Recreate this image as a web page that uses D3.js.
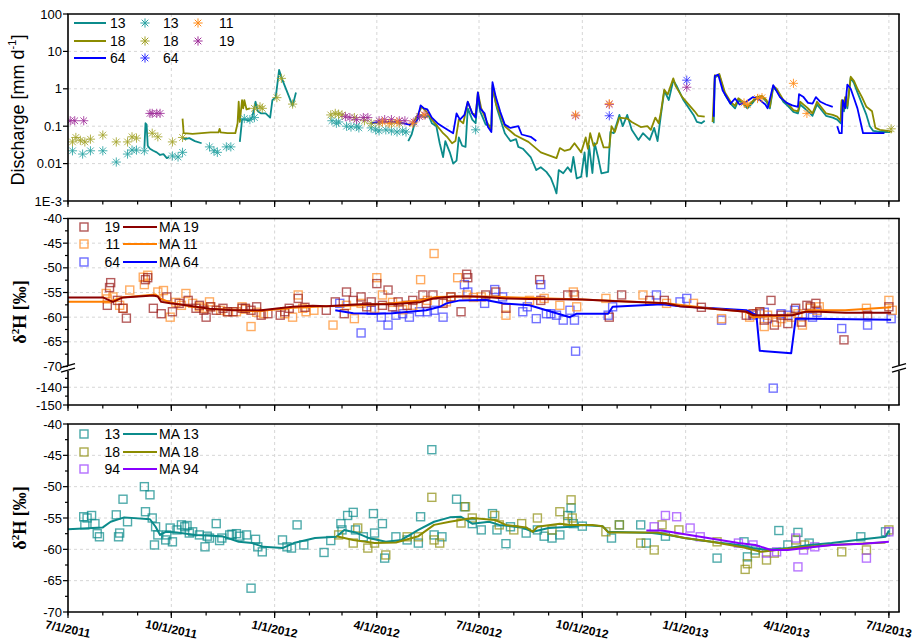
<!DOCTYPE html>
<html><head><meta charset="utf-8">
<script src="https://cdn.jsdelivr.net/npm/d3@7"></script>
<style>body{margin:0;background:#fff}svg{display:block}text{font-family:"Liberation Sans",Arial,sans-serif}</style>
</head><body><svg id="c" width="915" height="643"></svg>
<script>
// ---------------- DATA ----------------
const xTickLabels = ["7/1/2011","10/1/2011","1/1/2012","4/1/2012","7/1/2012","10/1/2012","1/1/2013","4/1/2013","7/1/2013"];
const qTickLabels = ["1E-3","0.01","0.1","1","10","100"];
const qTickValues = [0.001,0.01,0.1,1,10,100];
const hTickValues = [-70,-65,-60,-55,-50,-45,-40];
const hBreakTicks = [-150,-140];

// Discharge lines [date, mm/d] (null = gap)
const Q13 = [["2011-09-07",0.025],["2011-09-08",0.12],["2011-09-09",0.11],["2011-09-10",0.03],["2011-09-12",0.025],["2011-09-15",0.022],["2011-09-18",0.02],["2011-09-21",0.017],["2011-09-24",0.018],["2011-09-27",0.014],["2011-09-29",0.015],
["2011-10-05",null],
["2011-10-11",0.05],["2011-10-13",0.045],["2011-10-17",0.048],["2011-10-22",0.04],["2011-10-28",0.035],
["2011-11-15",null],
["2011-12-01",0.038],["2011-12-03",0.15],["2011-12-06",0.15],["2011-12-09",0.14],["2011-12-12",0.17],["2011-12-15",0.45],["2011-12-17",0.25],["2011-12-20",0.22],["2011-12-24",0.22],["2011-12-28",0.17],["2011-12-30",0.5],["2012-01-02",0.6],["2012-01-05",3.2],["2012-01-08",1.7],["2012-01-14",0.6],["2012-01-17",0.35],["2012-01-20",0.8],
["2012-03-01",null],
["2012-04-29",0.04],["2012-05-02",0.06],["2012-05-04",0.1],["2012-05-07",0.15],["2012-05-10",0.2],["2012-05-14",0.17],["2012-05-17",0.2],["2012-05-20",0.12],["2012-05-24",0.1],["2012-05-27",0.035],["2012-05-30",0.015],["2012-06-01",0.04],["2012-06-05",0.02],["2012-06-08",0.01],["2012-06-11",0.012],["2012-06-13",0.05],["2012-06-16",0.03],["2012-06-19",0.028],["2012-06-21",0.3],["2012-06-25",0.15],["2012-06-28",0.12],["2012-06-30",0.6],["2012-07-02",0.25],["2012-07-07",0.11],["2012-07-12",0.1],["2012-07-13",1.1],["2012-07-17",0.3],["2012-07-24",0.065],["2012-07-29",0.04],["2012-08-03",0.045],["2012-08-05",0.028],["2012-08-09",0.025],["2012-08-16",0.015],["2012-08-21",0.0067],["2012-08-25",0.008],["2012-08-30",0.006],["2012-09-03",0.0041],["2012-09-06",0.0024],["2012-09-08",0.0016],["2012-09-10",0.0067],["2012-09-14",0.0055],["2012-09-18",0.008],["2012-09-21",0.006],["2012-09-23",0.015],["2012-09-26",0.004],["2012-09-30",0.0045],["2012-10-03",0.02],["2012-10-05",0.0045],["2012-10-07",0.03],["2012-10-10",0.0056],["2012-10-12",0.035],["2012-10-15",0.015],["2012-10-18",0.0055],["2012-10-24",0.006],["2012-10-26",0.07],["2012-10-29",0.065],["2012-11-03",0.2],["2012-11-06",0.1],["2012-11-10",0.2],["2012-11-14",0.08],["2012-11-20",0.043],["2012-11-24",0.065],["2012-11-30",0.043],["2012-12-04",0.09],["2012-12-07",0.04],["2012-12-10",0.2],["2012-12-13",0.9],["2012-12-17",0.5],["2012-12-21",1.7],["2012-12-24",1.2],["2012-12-30",0.5],["2013-01-08",0.2],["2013-01-11",0.13],["2013-01-15",0.12],["2013-01-18",0.14],
["2013-01-22",null],
["2013-01-26",0.12],["2013-01-27",2.0],["2013-01-31",2.3],["2013-02-05",0.7],["2013-02-10",0.4],["2013-02-14",0.3],["2013-02-17",0.5],["2013-02-21",0.4],["2013-02-25",0.3],["2013-03-01",0.4],["2013-03-05",0.55],["2013-03-10",0.6],["2013-03-14",0.45],["2013-03-17",0.3],["2013-03-20",1.1],["2013-03-23",0.9],["2013-03-29",0.45],["2013-04-02",0.35],["2013-04-07",0.24],["2013-04-11",0.22],["2013-04-13",0.38],["2013-04-20",0.25],["2013-04-24",0.19],["2013-04-28",0.38],["2013-05-06",0.19],["2013-05-12",0.17],["2013-05-16",0.15],["2013-05-19",0.12],["2013-05-20",0.45],["2013-05-22",0.25],["2013-05-23",0.5],["2013-05-25",0.3],["2013-05-28",2.0],["2013-05-31",1.4],["2013-06-03",0.8],["2013-06-07",0.4],["2013-06-11",0.2],["2013-06-14",0.1],["2013-06-17",0.075],["2013-06-23",0.07],["2013-06-30",0.07],["2013-07-02",0.07]];

const Q18 = [["2011-10-11",0.16],["2011-10-12",0.065],["2011-10-20",0.062],["2011-10-28",0.065],["2011-11-05",0.068],["2011-11-12",0.068],["2011-11-13",0.085],["2011-11-14",0.068],["2011-11-20",0.065],["2011-11-27",0.065],["2011-11-29",0.12],["2011-11-30",0.45],["2011-12-01",0.13],["2011-12-03",0.5],["2011-12-04",0.3],["2011-12-05",0.5],["2011-12-07",0.28],["2011-12-10",0.3],
["2012-01-01",null],
["2012-04-30",0.1],["2012-05-04",0.13],["2012-05-08",0.22],["2012-05-11",0.33],["2012-05-15",0.25],["2012-05-20",0.15],["2012-05-25",0.1],["2012-05-30",0.065],["2012-06-03",0.05],["2012-06-07",0.035],["2012-06-10",0.04],["2012-06-13",0.15],["2012-06-17",0.12],["2012-06-21",0.45],["2012-06-25",0.22],["2012-06-28",0.2],["2012-06-30",0.8],["2012-07-03",0.3],["2012-07-08",0.13],["2012-07-12",0.08],["2012-07-13",1.25],["2012-07-16",0.4],["2012-07-24",0.1],["2012-08-02",0.058],["2012-08-14",0.038],["2012-08-25",0.02],["2012-09-08",0.014],["2012-09-11",0.026],["2012-09-15",0.022],["2012-09-20",0.024],["2012-09-24",0.035],["2012-09-30",0.02],["2012-10-04",0.05],["2012-10-06",0.025],["2012-10-08",0.065],["2012-10-11",0.03],["2012-10-14",0.035],["2012-10-16",0.065],["2012-10-20",0.027],["2012-10-25",0.027],["2012-10-27",0.1],["2012-10-30",0.07],["2012-11-03",0.17],["2012-11-10",0.16],["2012-11-14",0.13],["2012-11-22",0.095],["2012-11-28",0.1],["2012-12-01",0.08],["2012-12-05",0.17],["2012-12-08",0.12],["2012-12-10",0.24],["2012-12-13",0.95],["2012-12-16",0.7],["2012-12-21",1.9],["2012-12-23",1.2],["2012-12-29",0.6],["2013-01-09",0.25],["2013-01-12",0.19],["2013-01-18",0.18],
["2013-01-22",null],
["2013-01-25",0.13],["2013-01-27",2.3],["2013-01-29",2.2],["2013-01-31",2.5],["2013-02-05",0.8],["2013-02-10",0.45],["2013-02-14",0.35],["2013-02-17",0.56],["2013-02-21",0.45],["2013-02-25",0.33],["2013-03-01",0.45],["2013-03-05",0.6],["2013-03-10",0.65],["2013-03-14",0.5],["2013-03-17",0.33],["2013-03-20",1.2],["2013-03-23",1.0],["2013-03-29",0.5],["2013-04-02",0.4],["2013-04-07",0.27],["2013-04-11",0.25],["2013-04-13",0.45],["2013-04-20",0.3],["2013-04-24",0.22],["2013-04-28",0.45],["2013-05-06",0.22],["2013-05-12",0.2],["2013-05-16",0.18],["2013-05-19",0.14],["2013-05-20",0.5],["2013-05-22",0.3],["2013-05-23",0.6],["2013-05-25",0.35],["2013-05-28",2.1],["2013-05-31",1.6],["2013-06-03",1.0],["2013-06-07",0.6],["2013-06-11",0.33],["2013-06-16",0.25],["2013-06-19",0.09],["2013-06-23",0.08],["2013-06-30",0.075],["2013-07-04",0.07]];

const Q64 = [["2012-03-27",0.12],["2012-04-03",0.13],["2012-04-10",0.13],["2012-04-17",0.13],["2012-04-24",0.12],["2012-04-30",0.11],["2012-05-03",0.12],["2012-05-07",0.15],["2012-05-10",0.36],["2012-05-13",0.3],["2012-05-16",0.28],["2012-05-20",0.17],["2012-05-25",0.12],["2012-05-29",0.1],["2012-06-03",0.08],["2012-06-08",0.065],["2012-06-11",0.22],["2012-06-14",0.15],["2012-06-18",0.2],["2012-06-21",0.45],["2012-06-25",0.22],["2012-06-28",0.17],["2012-06-30",0.8],["2012-07-02",0.3],["2012-07-06",0.22],["2012-07-09",0.095],["2012-07-12",0.07],["2012-07-13",1.5],["2012-07-16",0.6],["2012-07-20",0.24],["2012-07-24",0.11],["2012-07-29",0.09],["2012-08-05",0.1],["2012-08-08",0.06],["2012-08-16",0.052],["2012-08-21",0.04],
["2012-10-01",null],
["2013-01-26",0.18],["2013-01-27",2.2],["2013-01-30",2.4],["2013-02-03",0.9],["2013-02-10",0.4],["2013-02-14",0.55],["2013-02-18",0.38],["2013-02-24",0.45],["2013-03-02",0.6],["2013-03-08",0.5],["2013-03-13",0.38],["2013-03-15",0.3],["2013-03-20",1.25],["2013-03-26",0.6],["2013-04-01",0.42],["2013-04-06",0.36],["2013-04-11",0.33],["2013-04-12",0.72],["2013-04-16",0.6],["2013-04-20",0.42],["2013-04-24",0.4],["2013-04-27",0.6],["2013-05-01",0.45],["2013-05-06",0.38],["2013-05-12",0.33],
["2013-05-14",null],
["2013-05-16",0.1],["2013-05-18",0.065],["2013-05-20",0.065],["2013-05-21",0.5],["2013-05-23",0.3],["2013-05-25",1.3],["2013-05-28",1.0],["2013-05-31",0.55],["2013-06-03",0.3],["2013-06-06",0.12],["2013-06-08",0.065],["2013-06-15",0.065],["2013-06-22",0.065],["2013-06-27",0.065]];

// Discharge at sampling (stars)
const S13 = [["2011-07-05",0.022],["2011-07-14",0.018],["2011-07-21",0.022],["2011-08-01",0.022],["2011-08-13",0.011],["2011-08-23",0.018],["2011-08-27",0.023],["2011-08-31",0.023],["2011-09-07",0.022],["2011-10-02",0.016],["2011-10-07",0.015],["2011-10-11",0.02],["2011-11-04",0.028],["2011-11-08",0.022],["2011-11-11",0.02],["2011-11-19",0.028],["2011-11-23",0.028],["2011-12-05",0.16],["2011-12-10",0.15],["2011-12-14",0.17],["2012-02-21",0.14],["2012-02-25",0.12],["2012-02-27",0.13],["2012-03-05",0.1],["2012-03-09",0.095],["2012-03-14",0.1],["2012-03-16",0.09],["2012-03-27",0.09],["2012-03-31",0.08],["2012-04-03",0.075],["2012-04-09",0.08],["2012-04-14",0.075],["2012-04-19",0.07],["2012-04-24",0.075],["2012-04-27",0.07],["2012-06-28",0.08]];
const S18 = [["2011-07-05",0.038],["2011-07-08",0.05],["2011-07-12",0.042],["2011-07-16",0.038],["2011-07-21",0.045],["2011-08-01",0.058],["2011-08-13",0.038],["2011-08-23",0.038],["2011-08-27",0.052],["2011-08-31",0.048],["2011-09-14",0.065],["2011-09-19",0.052],["2011-10-02",0.038],["2011-10-11",0.05],["2011-12-14",0.3],["2011-12-19",0.33],["2011-12-21",0.3],["2012-01-03",0.58],["2012-01-07",1.9],["2012-01-17",0.39],["2012-02-20",0.2],["2012-02-24",0.22],["2012-02-27",0.21],["2012-03-01",0.2],["2012-03-12",0.17],["2012-03-21",0.14],["2012-03-27",0.12],["2012-04-03",0.12],["2012-04-14",0.12],["2012-04-21",0.12],["2013-07-03",0.085]];
const S64 = [["2012-10-25",0.19],["2013-01-02",1.7]];
const S11 = [["2012-04-06",0.13],["2012-04-12",0.12],["2012-04-19",0.13],["2012-05-03",0.12],["2012-05-13",0.2],["2012-09-25",0.2],["2012-10-25",0.4],["2013-02-22",0.42],["2013-02-25",0.38],["2013-03-06",0.55],["2013-03-10",0.58],["2013-04-07",1.4],["2013-04-19",0.22]];
const S19 = [["2011-07-03",0.14],["2011-07-07",0.14],["2011-07-15",0.14],["2011-09-12",0.22],["2011-09-14",0.22],["2011-09-18",0.22],["2011-09-21",0.22],["2012-03-04",0.18],["2012-03-08",0.17],["2012-03-14",0.15],["2012-03-20",0.17],["2012-03-24",0.17],["2012-04-03",0.14],["2012-04-08",0.15],["2012-04-14",0.15],["2012-04-21",0.14],["2012-04-26",0.14],["2012-05-04",0.13],["2012-05-09",0.18],["2012-05-14",0.2],["2012-09-25",0.19],["2012-10-25",0.38],["2013-01-02",1.1]];

// delta2H samples (middle panel)
const D19 = [["2011-08-08",-53.0],["2011-08-07",-54.0],["2011-08-05",-57.6],["2011-08-14",-56.6],["2011-08-19",-58.2],["2011-08-22",-60.2],["2011-09-08",-52.4],["2011-09-10",-52.0],["2011-09-15",-58.2],["2011-09-22",-59.3],["2011-09-27",-55.9],["2011-10-02",-58.9],["2011-10-08",-57.2],["2011-10-16",-56.6],["2011-10-23",-58.2],["2011-10-26",-57.6],["2011-10-30",-58.6],["2011-11-01",-60.0],["2011-11-05",-57.9],["2011-11-10",-58.6],["2011-11-16",-58.2],["2011-11-20",-58.9],["2011-11-25",-58.9],["2011-12-03",-58.2],["2011-12-06",-58.2],["2011-12-11",-58.6],["2011-12-16",-57.9],["2011-12-20",-59.6],["2011-12-26",-59.3],["2012-01-06",-59.6],["2012-01-10",-58.9],["2012-01-14",-58.2],["2012-01-22",-56.2],["2012-01-28",-58.0],["2012-02-16",-58.6],["2012-02-24",-56.9],["2012-03-03",-59.3],["2012-03-05",-54.9],["2012-03-11",-56.6],["2012-03-18",-55.9],["2012-03-23",-57.9],["2012-03-27",-56.9],["2012-04-01",-53.2],["2012-04-06",-57.6],["2012-04-11",-54.5],["2012-04-15",-57.9],["2012-04-20",-56.9],["2012-04-28",-57.6],["2012-05-03",-56.6],["2012-05-12",-55.5],["2012-05-15",-57.2],["2012-05-21",-55.5],["2012-05-30",-57.2],["2012-06-06",-55.9],["2012-06-15",-58.9],["2012-06-20",-51.3],["2012-06-21",-52.0],["2012-07-07",-55.5],["2012-07-16",-54.9],["2012-07-25",-58.2],["2012-08-24",-52.4],["2012-08-25",-56.6],["2012-09-18",-55.5],["2012-09-24",-55.5],["2012-10-25",-60.0],["2012-11-05",-55.5],["2012-11-30",-56.6],["2012-12-13",-56.6],["2013-01-15",-58.0],["2013-02-24",-59.6],["2013-03-02",-59.3],["2013-03-08",-58.9],["2013-03-12",-60.6],["2013-03-18",-56.6],["2013-03-21",-61.6],["2013-03-27",-59.6],["2013-04-02",-61.3],["2013-04-09",-58.2],["2013-04-14",-61.0],["2013-04-19",-57.6],["2013-04-22",-57.9],["2013-04-27",-57.2],["2013-05-22",-64.6],["2013-06-12",-59.6],["2013-07-01",-57.9]];
const D11 = [["2011-08-04",-55.2],["2011-08-05",-56.3],["2011-08-10",-55.9],["2011-08-16",-57.6],["2011-08-19",-58.2],["2011-08-25",-54.5],["2011-09-06",-51.9],["2011-09-07",-53.4],["2011-09-10",-51.5],["2011-09-19",-54.9],["2011-09-24",-54.6],["2011-09-30",-60.0],["2011-10-05",-57.0],["2011-10-10",-57.6],["2011-10-14",-55.2],["2011-10-20",-57.2],["2011-10-26",-57.9],["2011-10-30",-58.2],["2011-11-04",-56.9],["2011-11-05",-57.9],["2011-11-14",-58.6],["2011-11-20",-58.9],["2011-11-28",-58.9],["2011-12-03",-57.9],["2011-12-06",-58.4],["2011-12-11",-61.9],["2011-12-16",-59.0],["2011-12-22",-59.3],["2012-01-10",-59.3],["2012-01-17",-60.0],["2012-01-22",-55.5],["2012-01-26",-58.2],["2012-01-29",-58.9],["2012-02-05",-58.6],["2012-02-22",-61.6],["2012-03-05",-57.6],["2012-03-12",-60.3],["2012-03-18",-57.2],["2012-03-30",-58.2],["2012-04-01",-52.0],["2012-04-06",-55.5],["2012-04-15",-57.0],["2012-04-24",-58.5],["2012-05-03",-57.6],["2012-05-10",-52.4],["2012-05-16",-56.6],["2012-05-22",-47.1],["2012-06-02",-56.9],["2012-06-06",-55.9],["2012-06-12",-52.0],["2012-06-20",-55.5],["2012-06-26",-56.0],["2012-07-03",-55.9],["2012-07-25",-59.6],["2012-08-15",-56.6],["2012-08-28",-56.2],["2012-09-11",-57.6],["2012-09-23",-54.9],["2012-09-26",-57.9],["2012-10-22",-56.2],["2012-11-24",-55.5],["2012-12-15",-57.2],["2013-01-08",-57.2],["2013-02-02",-60.3],["2013-02-27",-60.0],["2013-03-05",-59.3],["2013-03-08",-59.0],["2013-03-12",-61.9],["2013-03-15",-59.6],["2013-03-23",-61.0],["2013-03-27",-60.3],["2013-04-05",-60.0],["2013-04-11",-59.3],["2013-04-15",-61.6],["2013-04-22",-58.2],["2013-04-28",-58.6],["2013-04-30",-57.9],["2013-06-11",-58.2],["2013-07-01",-56.6],["2013-07-04",-58.6]];
const D64 = [["2012-02-28",-57.2],["2012-03-18",-63.2],["2012-03-27",-58.6],["2012-04-05",-60.0],["2012-04-11",-61.6],["2012-04-18",-59.6],["2012-04-24",-59.3],["2012-04-30",-60.0],["2012-05-09",-58.9],["2012-05-16",-58.9],["2012-05-22",-58.6],["2012-05-30",-60.0],["2012-06-18",-53.4],["2012-06-21",-54.9],["2012-07-06",-57.2],["2012-07-15",-54.4],["2012-07-22",-55.9],["2012-08-09",-58.9],["2012-08-13",-57.9],["2012-08-21",-60.3],["2012-08-25",-53.4],["2012-08-30",-59.3],["2012-09-03",-59.3],["2012-09-08",-59.6],["2012-09-14",-60.6],["2012-09-20",-58.6],["2012-09-24",-60.6],["2012-09-25",-66.9],["2012-10-24",-59.6],["2012-10-28",-57.9],["2012-12-06",-55.5],["2012-12-27",-56.9],["2013-01-02",-56.2],["2013-02-02",-60.6],["2013-03-02",-59.6],["2013-03-08",-59.3],["2013-03-12",-59.0],["2013-03-15",-60.3],["2013-03-20",-140.5],["2013-03-27",-59.3],["2013-04-02",-59.6],["2013-04-08",-58.6],["2013-04-15",-59.8],["2013-04-24",-60.0],["2013-04-28",-59.0],["2013-05-20",-62.3],["2013-06-12",-61.6],["2013-07-03",-60.3]];
const MA19 = [["2011-07-01",-56.0],["2011-08-01",-56.0],["2011-08-10",-56.9],["2011-08-19",-56.0],["2011-09-15",-55.6],["2011-09-19",-55.8],["2011-09-22",-56.9],["2011-09-30",-57.2],["2011-10-14",-57.6],["2011-11-04",-58.3],["2011-11-25",-58.6],["2011-12-20",-58.6],["2012-01-17",-57.9],["2012-02-04",-57.7],["2012-02-16",-57.8],["2012-03-18",-57.4],["2012-04-15",-57.4],["2012-05-09",-57.0],["2012-05-21",-56.2],["2012-06-08",-55.8],["2012-06-26",-55.8],["2012-07-07",-55.9],["2012-07-25",-56.2],["2012-08-15",-56.3],["2012-10-01",-56.4],["2012-10-28",-56.7],["2012-12-15",-57.2],["2012-12-27",-57.8],["2013-01-25",-58.3],["2013-02-24",-58.9],["2013-03-02",-59.6],["2013-03-14",-59.6],["2013-04-06",-59.6],["2013-04-18",-58.9],["2013-04-30",-58.9],["2013-05-23",-59.1],["2013-07-03",-59.1]];
const MA11 = [["2011-07-01",-56.9],["2011-08-07",-56.9],["2011-08-10",-56.6],["2011-08-18",-56.0],["2011-09-17",-55.4],["2011-09-22",-56.3],["2011-09-30",-57.0],["2011-10-20",-57.9],["2011-11-04",-58.3],["2011-12-16",-58.8],["2012-01-17",-58.1],["2012-02-16",-57.8],["2012-03-18",-57.6],["2012-04-15",-57.2],["2012-05-09",-56.6],["2012-05-24",-55.9],["2012-06-14",-55.8],["2012-07-07",-55.8],["2012-10-01",-56.4],["2012-12-15",-57.2],["2013-01-25",-58.3],["2013-02-24",-58.9],["2013-03-02",-60.0],["2013-04-06",-59.6],["2013-04-21",-58.6],["2013-05-23",-58.6],["2013-07-03",-58.0]];
const MA64 = [["2012-02-24",-58.6],["2012-03-11",-59.2],["2012-04-01",-59.3],["2012-04-15",-59.2],["2012-04-30",-58.9],["2012-05-15",-58.6],["2012-05-27",-57.9],["2012-06-02",-57.2],["2012-06-14",-56.6],["2012-07-07",-56.5],["2012-07-22",-57.2],["2012-08-15",-57.6],["2012-08-21",-58.0],["2012-09-20",-60.0],["2012-09-26",-59.3],["2012-10-24",-59.3],["2012-10-28",-57.9],["2012-12-11",-57.4],["2012-12-27",-57.8],["2013-02-24",-58.6],["2013-03-05",-59.6],["2013-03-08",-66.8],["2013-04-05",-67.3],["2013-04-09",-60.3],["2013-04-24",-60.3],["2013-07-03",-60.5]];

// delta2H samples (bottom panel)
const D13 = [["2011-07-15",-54.8],["2011-07-16",-56.1],["2011-07-18",-55.0],["2011-07-22",-54.6],["2011-07-25",-55.9],["2011-07-27",-57.5],["2011-07-29",-58.0],["2011-08-13",-54.5],["2011-08-15",-58.0],["2011-08-16",-57.4],["2011-08-19",-52.0],["2011-08-23",-55.6],["2011-09-07",-50.0],["2011-09-08",-54.0],["2011-09-12",-51.3],["2011-09-14",-55.0],["2011-09-16",-59.3],["2011-09-17",-56.4],["2011-09-19",-57.7],["2011-09-26",-58.5],["2011-09-27",-57.7],["2011-09-30",-56.6],["2011-10-02",-58.8],["2011-10-06",-56.9],["2011-10-10",-56.1],["2011-10-13",-56.4],["2011-10-15",-56.2],["2011-10-17",-57.4],["2011-10-20",-57.2],["2011-10-26",-57.7],["2011-10-31",-59.6],["2011-11-02",-57.9],["2011-11-04",-58.2],["2011-11-10",-55.9],["2011-11-13",-58.6],["2011-11-15",-58.2],["2011-11-22",-57.7],["2011-11-24",-57.6],["2011-11-28",-57.5],["2011-12-01",-57.9],["2011-12-07",-57.7],["2011-12-11",-66.2],["2011-12-15",-58.4],["2011-12-17",-59.6],["2011-12-21",-60.4],["2012-01-08",-58.5],["2012-01-12",-59.6],["2012-01-16",-59.8],["2012-01-21",-56.1],["2012-01-27",-59.3],["2012-02-14",-60.5],["2012-02-20",-58.6],["2012-02-29",-55.9],["2012-03-01",-56.9],["2012-03-06",-54.6],["2012-03-11",-54.1],["2012-03-13",-56.9],["2012-03-20",-58.0],["2012-03-29",-54.3],["2012-03-30",-57.4],["2012-04-06",-55.9],["2012-04-08",-61.4],["2012-04-18",-58.0],["2012-04-28",-58.5],["2012-05-08",-59.0],["2012-05-10",-54.8],["2012-05-20",-44.1],["2012-05-22",-57.7],["2012-05-29",-58.0],["2012-06-11",-52.0],["2012-06-18",-53.2],["2012-06-25",-55.9],["2012-07-03",-56.9],["2012-07-13",-54.3],["2012-07-17",-56.9],["2012-07-25",-59.1],["2012-07-29",-56.4],["2012-08-12",-57.4],["2012-08-22",-56.9],["2012-08-28",-57.9],["2012-09-04",-58.2],["2012-09-11",-57.7],["2012-09-18",-54.6],["2012-09-21",-53.4],["2012-09-23",-55.9],["2012-10-01",-56.3],["2012-10-27",-58.2],["2012-11-03",-56.1],["2012-11-22",-56.1],["2012-11-27",-59.0],["2012-12-14",-57.9],["2013-01-29",-61.4],["2013-02-22",-58.8],["2013-02-25",-61.2],["2013-03-04",-60.1],["2013-03-25",-57.0],["2013-04-02",-59.3],["2013-04-11",-57.3],["2013-04-21",-59.0],["2013-06-06",-58.0],["2013-06-28",-57.2]];
const D18 = [["2012-02-27",-57.7],["2012-03-11",-59.0],["2012-03-15",-56.6],["2012-03-24",-59.8],["2012-03-30",-59.0],["2012-04-09",-60.9],["2012-04-28",-58.0],["2012-05-08",-58.0],["2012-05-20",-51.7],["2012-05-22",-58.5],["2012-05-27",-59.0],["2012-06-15",-55.8],["2012-06-19",-53.2],["2012-06-25",-55.0],["2012-07-15",-54.6],["2012-07-19",-56.1],["2012-08-01",-56.9],["2012-08-08",-55.9],["2012-08-22",-55.0],["2012-09-04",-56.9],["2012-09-11",-54.0],["2012-09-18",-55.6],["2012-09-21",-52.1],["2012-09-22",-55.0],["2012-10-22",-57.2],["2012-11-03",-56.1],["2012-11-22",-59.0],["2012-12-04",-60.1],["2012-12-11",-56.1],["2012-12-26",-56.9],["2013-01-29",-58.8],["2013-02-23",-63.2],["2013-02-25",-62.3],["2013-03-04",-60.6],["2013-03-14",-61.7],["2013-03-21",-60.6],["2013-04-09",-58.5],["2013-04-17",-59.3],["2013-05-20",-60.4],["2013-06-11",-60.1],["2013-07-01",-56.9]];
const D94 = [["2012-12-04",-56.4],["2012-12-14",-54.6],["2012-12-24",-54.8],["2013-01-05",-56.6],["2013-01-14",-58.0],["2013-02-17",-59.0],["2013-03-02",-59.3],["2013-03-14",-60.6],["2013-03-23",-60.4],["2013-04-09",-58.2],["2013-04-11",-62.8],["2013-04-16",-60.1],["2013-04-26",-59.6],["2013-06-11",-61.4],["2013-07-01",-57.2]];
const MA13 = [["2011-07-01",-56.8],["2011-08-01",-56.5],["2011-08-08",-55.6],["2011-08-20",-54.9],["2011-09-12",-55.2],["2011-09-17",-56.4],["2011-09-21",-57.7],["2011-09-26",-57.2],["2011-10-06",-57.3],["2011-10-23",-57.7],["2011-11-15",-57.9],["2011-11-30",-58.8],["2011-12-12",-59.0],["2011-12-22",-59.6],["2012-01-08",-59.8],["2012-01-18",-59.0],["2012-02-06",-58.2],["2012-02-25",-58.0],["2012-03-03",-56.9],["2012-03-13",-57.3],["2012-03-25",-58.2],["2012-04-09",-58.8],["2012-04-23",-58.5],["2012-05-08",-56.9],["2012-05-22",-55.6],["2012-06-05",-54.9],["2012-06-15",-54.8],["2012-06-25",-55.9],["2012-07-10",-55.6],["2012-07-19",-56.1],["2012-08-08",-56.5],["2012-08-18",-57.2],["2012-09-01",-56.6],["2012-09-21",-56.4],["2012-10-01",-56.1],["2012-10-19",-56.3],["2012-10-24",-57.2],["2012-11-17",-57.3],["2012-12-02",-57.4],["2012-12-17",-57.7],["2012-12-31",-58.2],["2013-01-24",-58.8],["2013-02-17",-59.3],["2013-03-02",-59.8],["2013-03-14",-60.1],["2013-04-02",-59.8],["2013-04-21",-59.3],["2013-05-11",-59.0],["2013-06-08",-58.4],["2013-06-28",-58.0],["2013-07-01",-57.0]];
const MA18 = [["2012-02-25",-57.9],["2012-03-11",-58.5],["2012-03-30",-59.0],["2012-04-18",-58.9],["2012-05-08",-57.9],["2012-05-22",-56.1],["2012-06-05",-55.6],["2012-06-25",-55.0],["2012-07-15",-55.3],["2012-07-25",-56.1],["2012-08-12",-56.5],["2012-08-18",-57.2],["2012-08-22",-56.4],["2012-09-11",-55.9],["2012-09-21",-56.1],["2012-10-10",-56.1],["2012-10-19",-56.3],["2012-10-24",-57.3],["2012-12-07",-57.3],["2012-12-31",-58.2],["2013-01-24",-58.8],["2013-02-22",-59.7],["2013-03-09",-60.4],["2013-03-23",-60.1],["2013-04-11",-59.7],["2013-05-11",-59.3],["2013-06-28",-58.9]];
const MA94 = [["2012-11-27",-57.0],["2012-12-11",-57.0],["2013-01-14",-58.0],["2013-02-17",-59.0],["2013-03-04",-59.3],["2013-03-18",-60.1],["2013-04-02",-60.1],["2013-04-21",-59.7],["2013-05-11",-59.3],["2013-06-08",-59.1],["2013-07-01",-58.8]];

// ---------------- CHART ----------------
const parseD = d3.utcParse("%Y-%m-%d");
const prep = a => a.map(d => [parseD(d[0]), d[1]]);
const svg = d3.select("#c");
const L = 68, R = 899;
const P = [{t:14,b:201},{t:218.5,b:405},{t:424,b:612}];
const x = d3.scaleUtc().domain([parseD("2011-07-01"), parseD("2013-07-10")]).range([L, R]);
const yQ = d3.scaleLog().domain([1e-3, 100]).range([P[0].b, P[0].t]);
const yMu = d3.scaleLinear().domain([-70, -40]).range([366.5, P[1].t]);
const yMl = d3.scaleLinear().domain([-150, -130]).range([P[1].b, 369.5]);
const yM = v => v >= -70 ? yMu(v) : yMl(v);
const yB = d3.scaleLinear().domain([-70, -40]).range([P[2].b, P[2].t]);

const quarters = d3.utcMonth.every(3).range(x.domain()[0], x.domain()[1]);
const months = d3.utcMonth.range(x.domain()[0], x.domain()[1]);
const grid = svg.append("g").attr("stroke", "#d6d6d6").attr("stroke-dasharray", "3,3").attr("stroke-width", 1);
P.forEach(p => quarters.slice(1).forEach(q => grid.append("line").attr("x1", x(q)).attr("x2", x(q)).attr("y1", p.t).attr("y2", p.b)));
qTickValues.slice(1, -1).forEach(v => grid.append("line").attr("x1", L).attr("x2", R).attr("y1", yQ(v)).attr("y2", yQ(v)));
hTickValues.slice(1, -1).forEach(v => grid.append("line").attr("x1", L).attr("x2", R).attr("y1", yMu(v)).attr("y2", yMu(v)));
grid.append("line").attr("x1", L).attr("x2", R).attr("y1", yMl(-140)).attr("y2", yMl(-140));
hTickValues.slice(1, -1).forEach(v => grid.append("line").attr("x1", L).attr("x2", R).attr("y1", yB(v)).attr("y2", yB(v)));

const defs = svg.append("defs");
P.forEach((p, i) => defs.append("clipPath").attr("id", "cp" + i).append("rect").attr("x", L).attr("y", p.t).attr("width", R - L).attr("height", p.b - p.t));

function starPath(p, cx, cy, r) {
  const k = r * 0.72;
  p.moveTo(cx - r, cy); p.lineTo(cx + r, cy); p.moveTo(cx, cy - r); p.lineTo(cx, cy + r);
  p.moveTo(cx - k, cy - k); p.lineTo(cx + k, cy + k); p.moveTo(cx - k, cy + k); p.lineTo(cx + k, cy - k);
}
function star(g, data, yS, col, r) {
  const p = d3.path();
  prep(data).forEach(([d, v]) => starPath(p, x(d), yS(v), r));
  g.append("path").attr("d", p.toString()).attr("stroke", col).attr("stroke-width", 1).attr("fill", "none").attr("opacity", 0.85);
}
function squares(g, data, yS, col) {
  g.selectAll(null).data(prep(data)).enter().append("rect")
    .attr("x", d => x(d[0]) - 4).attr("y", d => yS(d[1]) - 4).attr("width", 8).attr("height", 8)
    .attr("fill", "none").attr("stroke", col).attr("stroke-width", 1.4).attr("opacity", 0.72);
}
function line(g, data, yS, col, w) {
  const ln = d3.line().defined(d => d[1] != null).x(d => x(d[0])).y(d => yS(d[1]));
  g.append("path").attr("d", ln(prep(data))).attr("fill", "none").attr("stroke", col).attr("stroke-width", w).attr("stroke-linejoin", "round");
}

const g0 = svg.append("g").attr("clip-path", "url(#cp0)");
line(g0, Q13, yQ, "#0b8b8b", 1.8);
line(g0, Q18, yQ, "#8b8b00", 1.8);
line(g0, Q64, yQ, "#0000ff", 1.8);
star(g0, S13, yQ, "#2aa3a3", 4.6);
star(g0, S18, yQ, "#a3a32a", 4.6);
star(g0, S19, yQ, "#a0309a", 4.6);
star(g0, S11, yQ, "#ff8c1a", 4.6);
star(g0, S64, yQ, "#3333ff", 4.6);

const g1 = svg.append("g").attr("clip-path", "url(#cp1)");
squares(g1, D64, yM, "#3d3dff");
squares(g1, D11, yM, "#ff8c26");
squares(g1, D19, yM, "#9a1f1f");
line(g1, MA64, yM, "#0000ff", 2);
line(g1, MA11, yM, "#ff7f00", 2);
line(g1, MA19, yM, "#8b0000", 2);

const g2 = svg.append("g").attr("clip-path", "url(#cp2)");
squares(g2, D13, yB, "#0b8b8b");
squares(g2, D18, yB, "#8f8f10");
squares(g2, D94, yB, "#9b40ff");
line(g2, MA13, yB, "#0b8b8b", 2);
line(g2, MA18, yB, "#8b8b00", 2);
line(g2, MA94, yB, "#8800ff", 2);

const ax = svg.append("g").attr("stroke", "#000").attr("fill", "none");
const fw = 1.6;
function hl(x1, x2, y) { ax.append("line").attr("x1", x1).attr("x2", x2).attr("y1", y).attr("y2", y).attr("stroke-width", fw); }
function vl(xx, y1, y2, w) { ax.append("line").attr("x1", xx).attr("x2", xx).attr("y1", y1).attr("y2", y2).attr("stroke-width", w || fw); }
P.forEach((p, i) => {
  hl(L - 0.8, R + 0.8, p.t); hl(L - 0.8, R + 0.8, p.b);
  if (i === 1) { vl(L, p.t, 365.5); vl(L, 370.5, p.b); vl(R, p.t, 365.5); vl(R, 370.5, p.b); }
  else { vl(L, p.t, p.b); vl(R, p.t, p.b); }
  quarters.forEach(q => vl(x(q), p.b, p.b + 6, 1.2));
  months.forEach(m => vl(x(m), p.b, p.b + 3.5, 1.2));
});
[L, R].forEach(xx => {
  ax.append("rect").attr("x", xx - 7).attr("y", 365).attr("width", 14).attr("height", 6).attr("fill", "#fff").attr("stroke", "none");
  ax.append("line").attr("x1", xx - 7).attr("y1", 367.5).attr("x2", xx + 7).attr("y2", 363.5).attr("stroke-width", 1.3);
  ax.append("line").attr("x1", xx - 7).attr("y1", 372).attr("x2", xx + 7).attr("y2", 368).attr("stroke-width", 1.3);
});
function ytick(y, len) { ax.append("line").attr("x1", L - len).attr("x2", L).attr("y1", y).attr("y2", y).attr("stroke-width", 1.2); }
const tl = svg.append("g").attr("font-size", 13).attr("text-anchor", "end").attr("fill", "#000");
qTickValues.forEach((v, i) => { ytick(yQ(v), 5); tl.append("text").attr("x", L - 6).attr("y", yQ(v)).attr("dy", "0.35em").text(qTickLabels[i]); });
hTickValues.forEach(v => { ytick(yMu(v), 5); tl.append("text").attr("x", L - 6).attr("y", yMu(v)).attr("dy", "0.35em").text(v); });
d3.range(-67.5, -40, 5).forEach(v => ytick(yMu(v), 3));
hBreakTicks.forEach(v => { ytick(yMl(v), 5); tl.append("text").attr("x", L - 6).attr("y", yMl(v)).attr("dy", "0.35em").text(v); });
[-145, -135].forEach(v => ytick(yMl(v), 3));
hTickValues.forEach(v => { ytick(yB(v), 5); tl.append("text").attr("x", L - 6).attr("y", yB(v)).attr("dy", "0.35em").text(v); });
d3.range(-67.5, -40, 5).forEach(v => ytick(yB(v), 3));

quarters.forEach((q, i) => {
  svg.append("text").attr("transform", `translate(${x(q)},${629}) rotate(12)`).attr("text-anchor", "middle")
    .attr("dy", "0.35em").attr("font-size", 12).attr("font-weight", "bold").text(xTickLabels[i]);
});

const t1 = svg.append("text").attr("transform", "translate(24,110) rotate(-90)").attr("text-anchor", "middle").attr("font-size", 18);
t1.append("tspan").text("Discharge [mm d");
t1.append("tspan").attr("font-size", 11).attr("dy", -8).text("-1");
t1.append("tspan").attr("dy", 8).text("]");
[312, 518].forEach(cy => {
  const t = svg.append("text").attr("transform", `translate(26,${cy}) rotate(-90)`).attr("text-anchor", "middle")
    .attr("font-size", 18).attr("font-weight", "bold").style("font-family", '"Liberation Serif","Times New Roman",serif');
  t.append("tspan").text("δ");
  t.append("tspan").attr("font-size", 11).attr("dy", -7).text("2");
  t.append("tspan").attr("dy", 7).text("H [‰]");
});

const lg = svg.append("g").attr("font-size", 14);
const topRows = [
  {y: 23, lc: "#0b8b8b", l: "13", sc: "#2aa3a3", s: "13", s2c: "#ff8c1a", s2: "11"},
  {y: 41, lc: "#8b8b00", l: "18", sc: "#a3a32a", s: "18", s2c: "#a0309a", s2: "19"},
  {y: 58, lc: "#0000ff", l: "64", sc: "#3333ff", s: "64"}];
function starAt(cx, cy, col) {
  const p = d3.path(); starPath(p, cx, cy, 4.6);
  lg.append("path").attr("d", p.toString()).attr("stroke", col).attr("fill", "none");
}
topRows.forEach(r => {
  lg.append("line").attr("x1", 74).attr("x2", 106).attr("y1", r.y).attr("y2", r.y).attr("stroke", r.lc).attr("stroke-width", 2);
  lg.append("text").attr("x", 110).attr("y", r.y).attr("dy", "0.35em").text(r.l);
  starAt(145, r.y, r.sc);
  lg.append("text").attr("x", 163).attr("y", r.y).attr("dy", "0.35em").text(r.s);
  if (r.s2) { starAt(198, r.y, r.s2c); lg.append("text").attr("x", 219).attr("y", r.y).attr("dy", "0.35em").text(r.s2); }
});
function sqLegend(rows) {
  rows.forEach(r => {
    lg.append("rect").attr("x", 80).attr("y", r.y - 4).attr("width", 8).attr("height", 8).attr("fill", "none").attr("stroke", r.sc).attr("stroke-width", 1.4).attr("opacity", 0.75);
    lg.append("text").attr("x", 120).attr("y", r.y).attr("dy", "0.35em").attr("text-anchor", "end").text(r.n);
    lg.append("line").attr("x1", 123).attr("x2", 157).attr("y1", r.y).attr("y2", r.y).attr("stroke", r.lc).attr("stroke-width", 2);
    lg.append("text").attr("x", 159).attr("y", r.y).attr("dy", "0.35em").text("MA " + r.n);
  });
}
sqLegend([{y: 227, n: "19", sc: "#9a1f1f", lc: "#8b0000"}, {y: 244, n: "11", sc: "#ff8c26", lc: "#ff7f00"}, {y: 262, n: "64", sc: "#3d3dff", lc: "#0000ff"}]);
sqLegend([{y: 434, n: "13", sc: "#0b8b8b", lc: "#0b8b8b"}, {y: 452, n: "18", sc: "#8f8f10", lc: "#8b8b00"}, {y: 469, n: "94", sc: "#9b40ff", lc: "#8800ff"}]);
</script></body></html>
